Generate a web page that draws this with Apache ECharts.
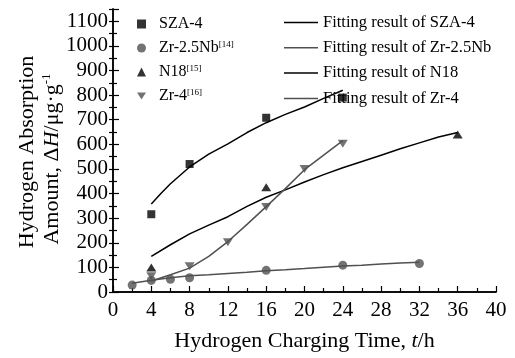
<!DOCTYPE html>
<html>
<head>
<meta charset="utf-8">
<script src="https://cdn.jsdelivr.net/npm/echarts@6/dist/echarts.min.js"></script>
<style>
  html, body { margin: 0; padding: 0; background: #fff; }
  #chart { width: 515px; height: 358px; }
</style>
</head>
<body>
<div id="chart"></div>
<script>
// measured points, [t (h), ΔH (μg/g)]
const sza4 = [[4, 316], [8, 520], [16, 708], [24, 790]];
const zr25nb = [[2, 28], [4, 47], [6, 52], [8, 58], [16, 88], [24, 109], [32, 116]];
const n18 = [[4, 100], [16, 426], [36, 640]];
const zr4 = [[4, 64], [8, 105], [12, 202], [16, 345], [20, 500], [24, 602]];

// fitted curves
const fitSza4 = [[4, 358], [5, 400], [6, 440], [8, 508], [10, 560], [12, 602], [14, 648], [16, 688], [18, 722], [20, 752], [22, 787], [24, 820]];
const fitZr25nb = [[2, 36], [4, 48], [6, 58], [8, 66], [10, 70], [12, 75], [14, 80], [16, 86], [18, 90], [20, 95], [22, 101], [24, 106], [26, 109], [28, 114], [30, 118], [32, 121]];
const fitN18 = [[4, 145], [6, 192], [8, 236], [10, 272], [12, 306], [14, 348], [16, 385], [18, 415], [20, 447], [22, 477], [24, 505], [26, 530], [28, 556], [30, 582], [32, 606], [34, 630], [36, 648]];
const fitZr4 = [[4, 45], [6, 70], [8, 97], [10, 145], [12, 205], [14, 275], [16, 347], [18, 420], [20, 497], [22, 556], [24, 615]];

const refs = { 'Zr-2.5Nb': '[14]', 'N18': '[15]', 'Zr-4': '[16]' };

const FONT = '"Liberation Serif", "DejaVu Serif", serif';
const BLACK = '#000000';
const GRAY = '#505050';
const DOWN_TRI = 'path://M0,0 L10,0 L5,8 Z';

const chart = echarts.init(document.getElementById('chart'));

const tickBase = {
  axisLine: { show: true, lineStyle: { color: BLACK, width: 1.5 } },
  axisTick: { show: true, inside: true, length: 6, lineStyle: { color: BLACK, width: 1.2 } },
  minorTick: { show: true, splitNumber: 2, length: 4, lineStyle: { color: BLACK, width: 1.2 } },
  splitLine: { show: false },
};

function scatter(name, data, symbol, size, color) {
  return { type: 'scatter', name, data, symbol, symbolSize: size, itemStyle: { color }, z: 3 };
}
function fit(name, data, color) {
  return {
    type: 'line', name, data, showSymbol: false, smooth: false,
    lineStyle: { color, width: 1.5 }, itemStyle: { color }, z: 2,
  };
}

chart.setOption({
  animation: false,
  grid: { left: 113, top: 9, width: 383, height: 283, containLabel: false },
  legend: [
    {
      data: ['SZA-4', 'Zr-2.5Nb', 'N18', 'Zr-4'],
      orient: 'vertical', left: 132, top: 11,
      itemWidth: 9, itemHeight: 9, itemGap: 8,
      textStyle: {
        fontFamily: FONT, fontSize: 16, color: BLACK, lineHeight: 16, padding: [0, 0, 0, 8],
        rich: { sup: { fontFamily: FONT, fontSize: 9, verticalAlign: 'top', lineHeight: 10, padding: [0, 0, 6, 0] } },
      },
      formatter: (n) => refs[n] ? n + '{sup|' + refs[n] + '}' : n,
    },
    {
      data: ['Fitting result of SZA-4', 'Fitting result of Zr-2.5Nb', 'Fitting result of N18', 'Fitting result of Zr-4'],
      orient: 'vertical', left: 279, top: 9,
      icon: 'rect', itemWidth: 34, itemHeight: 1.5, itemGap: 8.3,
      textStyle: { fontFamily: FONT, fontSize: 16.5, color: BLACK, lineHeight: 16 },
    },
  ],
  xAxis: [
    {
      type: 'value', min: 0, max: 40, interval: 4,
      ...tickBase,
      axisLabel: { fontFamily: FONT, fontSize: 21, color: BLACK, margin: 8, formatter: (v) => String(v) },
      name: 'Hydrogen Charging Time, {i|t}/h',
      nameLocation: 'middle', nameGap: 38,
      nameTextStyle: {
        fontFamily: FONT, fontSize: 22, color: BLACK,
        rich: { i: { fontFamily: FONT, fontSize: 22, fontStyle: 'italic', color: BLACK } },
      },
    },
    {
      type: 'value', min: 0, max: 40, position: 'top',
      axisLine: { show: true, lineStyle: { color: BLACK, width: 1.5 } },
      axisTick: { show: false }, axisLabel: { show: false }, splitLine: { show: false },
    },
  ],
  yAxis: [
    {
      type: 'value', min: 0, max: 1150, interval: 100,
      ...tickBase,
      axisLabel: { fontFamily: FONT, fontSize: 21, color: BLACK, margin: 5, showMaxLabel: false, formatter: (v) => String(v) },
    },
    {
      type: 'value', min: 0, max: 1150, interval: 50, position: 'right',
      axisLine: { show: true, lineStyle: { color: BLACK, width: 1.5 } },
      axisTick: { show: true, inside: true, length: 4, lineStyle: { color: BLACK, width: 1.2 } },
      axisLabel: { show: false }, splitLine: { show: false },
    },
  ],
  graphic: [
    {
      type: 'text', x: 27, y: 152, rotation: Math.PI / 2,
      style: { text: 'Hydrogen Absorption', font: '22px ' + FONT, fill: BLACK, align: 'center', verticalAlign: 'middle' },
    },
    {
      type: 'text', x: 52, y: 159, rotation: Math.PI / 2,
      style: {
        text: 'Amount, Δ{i|H}/μg·g{sup|-1}',
        font: '22px ' + FONT, fill: BLACK, align: 'center', verticalAlign: 'middle',
        rich: {
          i: { font: 'italic 22px ' + FONT, fill: BLACK },
          sup: { font: '13px ' + FONT, fill: BLACK, verticalAlign: 'top', padding: [0, 0, 10, 0] },
        },
      },
    },
  ],
  series: [
    scatter('SZA-4', sza4, 'rect', 8, BLACK),
    scatter('Zr-2.5Nb', zr25nb, 'circle', 9, GRAY),
    scatter('N18', n18, 'triangle', [10, 8], BLACK),
    scatter('Zr-4', zr4, DOWN_TRI, [10, 8], GRAY),
    fit('Fitting result of SZA-4', fitSza4, BLACK),
    fit('Fitting result of Zr-2.5Nb', fitZr25nb, GRAY),
    fit('Fitting result of N18', fitN18, BLACK),
    fit('Fitting result of Zr-4', fitZr4, GRAY),
  ],
});
</script>
</body>
</html>
